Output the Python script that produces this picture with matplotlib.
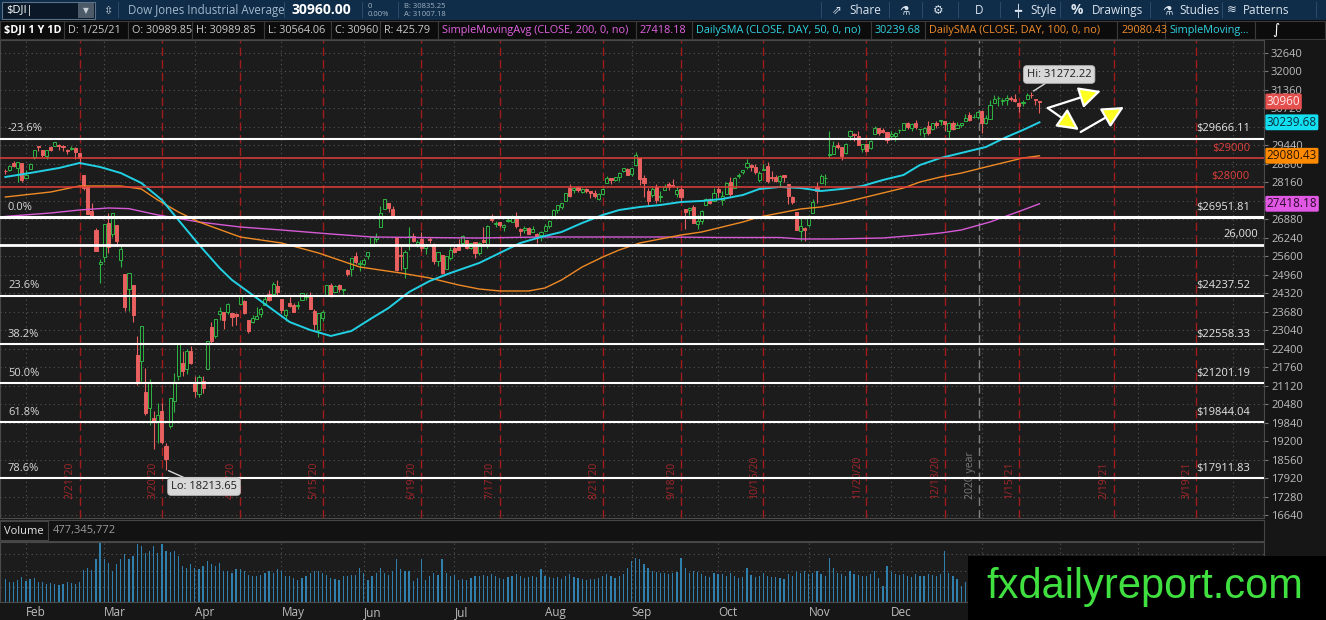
import matplotlib
matplotlib.use("Agg")
import matplotlib.pyplot as plt
import matplotlib.transforms as mtransforms
from matplotlib.patches import Rectangle
import pandas as pd

plt.rcParams['font.family'] = ['Open Sans', 'DejaVu Sans']

W, H = 1326, 620

# ---- daily candles, $DJI 1/27/20 .. 1/25/21 ----
opens = [28542, 28600, 28820, 28640, 28813, 28320, 28626, 29029, 29392, 29287,
         29060, 29373, 29405, 29442, 29417, 29280, 29305, 29344, 29165, 28402,
         28029, 27180, 26527, 25330, 25590, 26763, 26384, 26673, 25457, 24992,
         24453, 24604, 22184, 21974, 20916, 20346, 19993, 19864, 20253, 19028,
         19722, 20596, 21469, 21898, 21679, 22313, 21227, 20819, 21285, 21693,
         23165, 22840, 23613, 23660, 23681, 23652, 23609, 23962, 24034, 23395,
         23310, 23442, 23591, 23917, 24300, 24299, 24576, 24119, 23549, 23967,
         23911, 23871, 24082, 24197, 24263, 23714, 23049, 23464, 24216, 24596,
         24379, 24606, 24420, 25113, 25171, 25597, 25326, 25344, 25615, 25946,
         26182, 26617, 27232, 27447, 27251, 26282, 25660, 25192, 26267, 26314,
         26015, 26213, 25879, 26165, 26042, 25433, 25650, 25153, 25551, 25880,
         25987, 26058, 26163, 25889, 26094, 25727, 26154, 25977, 26908, 26720,
         26786, 26621, 26810, 26799, 26948, 26541, 26514, 26586, 26433, 26364,
         26354, 26476, 26633, 26913, 27200, 27297, 27514, 27958, 27883, 27988,
         27841, 27946, 27869, 27792, 27592, 27758, 28135, 28322, 28229, 28355,
         28569, 28636, 28460, 28775, 29002, 28319, 27854, 27718, 27994, 27662,
         27896, 28097, 28050, 27760, 27935, 27242, 27211, 27308, 26708, 26808,
         27374, 27580, 27514, 27942, 27537, 27762, 28165, 27950, 28379, 28525,
         28684, 28773, 28708, 28253, 28601, 28726, 28332, 28330, 28207, 28401,
         28111, 27665, 27134, 26478, 26575, 26681, 27097, 28005, 28152, 28300,
         29110, 29148, 29440, 29380, 29187, 29777, 29835, 29765, 29321, 29494,
         29360, 29832, 30044, 29965, 29892, 29774, 29756, 29956, 29988, 30224,
         30032, 30215, 29994, 29857, 30105, 30007, 30209, 30286, 30290, 29948,
         30226, 30055, 30130, 30284, 30492, 30408, 30417, 30628, 30205, 30368,
         30905, 31069, 30980, 31016, 31076, 31052, 30898, 30908, 31036, 31197,
         31056, 30990]
highs = [28632, 28770, 28890, 28880, 28814, 28590, 28840, 29291, 29408, 29287,
         29277, 29416, 29568, 29502, 29446, 29305, 29407, 29370, 29165, 28402,
         28035, 27450, 26573, 25499, 26706, 27085, 27091, 26675, 25994, 24992,
         25018, 24604, 22837, 23186, 21731, 21337, 20254, 20532, 20531, 19122,
         20705, 21563, 22596, 22327, 22379, 22480, 21449, 21477, 21447, 22680,
         23329, 23434, 23854, 23660, 23986, 23652, 23622, 24264, 24073, 23399,
         23575, 23859, 23829, 24260, 24430, 24719, 24765, 24120, 23771, 24181,
         23992, 24057, 24332, 24332, 24363, 23781, 23630, 23736, 24620, 24672,
         24589, 24643, 24477, 25172, 25548, 25758, 25469, 25543, 25749, 26270,
         26391, 27338, 27580, 27447, 27355, 26282, 26037, 25804, 26611, 26401,
         26154, 26426, 26040, 26284, 26043, 25760, 25650, 25601, 25938, 25979,
         26205, 26332, 26165, 26070, 26094, 26087, 26631, 26671, 27065, 26808,
         26804, 26704, 27000, 27020, 27140, 26569, 26636, 26608, 26648, 26407,
         26470, 26734, 26848, 27235, 27387, 27433, 27791, 28098, 27990, 28030,
         27960, 27954, 27875, 27883, 27794, 27959, 28364, 28322, 28361, 28503,
         28670, 28641, 28649, 29199, 29003, 28423, 27963, 28000, 28093, 27867,
         28110, 28155, 28288, 28022, 27991, 27250, 27301, 27366, 27013, 27205,
         27632, 27620, 27975, 28042, 27845, 28162, 28354, 28345, 28483, 28603,
         28958, 28787, 28799, 28556, 28793, 28862, 28559, 28425, 28430, 28401,
         28114, 27703, 27134, 26962, 26615, 27022, 27600, 28155, 28443, 28433,
         29934, 29594, 29558, 29391, 29516, 29964, 29876, 29948, 29502, 29497,
         29620, 30117, 30045, 30026, 29892, 29950, 29890, 30003, 30219, 30240,
         30199, 30320, 30023, 30062, 30292, 30214, 30281, 30326, 30290, 30234,
         30268, 30254, 30231, 30526, 30588, 30525, 30638, 30674, 30504, 31023,
         31194, 31141, 31091, 31168, 31155, 31224, 30955, 31022, 31239, 31272,
         31057, 30990]
lows = [28441, 28555, 28700, 28169, 28170, 28320, 28626, 28957, 29262, 29034,
        28963, 29233, 29405, 29288, 29260, 29140, 29282, 28959, 28812, 27895,
        27049, 26916, 25767, 24681, 25391, 25706, 26281, 25944, 25226, 23707,
        23690, 23328, 21155, 21285, 20117, 19771, 18917, 19138, 19094, 18214,
        19650, 20205, 21332, 21470, 21522, 21884, 20736, 20735, 20863, 21693,
        22563, 22767, 23376, 23078, 23616, 23184, 23207, 23962, 23611, 22941,
        23291, 23442, 23491, 23917, 24043, 24299, 24219, 23645, 23361, 23840,
        23664, 23786, 24082, 24091, 23762, 23053, 22790, 23371, 24216, 24205,
        24379, 24351, 24299, 24902, 24929, 25340, 25082, 25277, 25510, 25946,
        26078, 26617, 27232, 27140, 26979, 25082, 25141, 24843, 25810, 26107,
        25928, 25767, 25690, 26066, 25320, 25257, 25000, 25153, 25455, 25722,
        25824, 26058, 25869, 25844, 25539, 25648, 26076, 25887, 26800, 26631,
        26601, 26485, 26781, 26799, 26575, 26313, 26400, 26374, 26427, 26052,
        26140, 26473, 26575, 26913, 27094, 27220, 27514, 27664, 27807, 27813,
        27793, 27796, 27628, 27633, 27560, 27722, 28135, 28114, 28196, 28215,
        28530, 28415, 28372, 28710, 28074, 27665, 27388, 27669, 27453, 27482,
        27896, 27893, 27990, 27652, 27482, 26537, 27018, 26743, 26537, 26704,
        27374, 27403, 27514, 27642, 27383, 27762, 27691, 27950, 28323, 28444,
        28639, 28546, 28437, 28177, 28571, 28137, 28207, 28183, 28035, 28159,
        27414, 27418, 26520, 26143, 26144, 26598, 27097, 27438, 28152, 28054,
        28996, 29126, 29303, 28944, 29140, 29644, 29575, 29437, 29210, 29212,
        29329, 29832, 29800, 29873, 29516, 29711, 29608, 29879, 29988, 30021,
        29932, 29991, 29787, 29743, 29814, 29963, 30054, 30159, 29942, 29699,
        29980, 30042, 30092, 30284, 30289, 30373, 30342, 29882, 30194, 30368,
        30897, 30793, 30850, 30850, 30986, 30949, 30613, 30803, 31036, 31065,
        30846, 30564]
closes = [28536, 28723, 28734, 28859, 28256, 28400, 28808, 29291, 29380, 29103,
          29277, 29276, 29551, 29423, 29398, 29232, 29348, 29220, 28992, 27961,
          27081, 26958, 25767, 25409, 26703, 25917, 27091, 26121, 25865, 23851,
          25018, 23553, 21201, 23186, 20189, 21237, 19899, 20087, 19174, 18592,
          20705, 21201, 22552, 21637, 22327, 21917, 20944, 21413, 21053, 22680,
          22654, 23434, 23719, 23391, 23950, 23504, 23538, 24242, 23650, 23019,
          23476, 23515, 23775, 24134, 24102, 24634, 24346, 23724, 23750, 23883,
          23665, 23876, 24331, 24222, 23765, 23248, 23625, 23685, 24597, 24207,
          24576, 24474, 24465, 24995, 25548, 25401, 25383, 25475, 25743, 26270,
          26282, 27111, 27572, 27272, 26990, 25128, 25606, 25763, 26290, 26120,
          26080, 25871, 26025, 26156, 25446, 25746, 25016, 25596, 25813, 25735,
          25827, 26287, 25890, 26067, 25706, 26075, 26086, 26643, 26870, 26735,
          26672, 26681, 26840, 27006, 26652, 26470, 26585, 26379, 26540, 26314,
          26428, 26664, 26828, 27202, 27387, 27433, 27791, 27687, 27977, 27897,
          27931, 27845, 27778, 27693, 27740, 27930, 28308, 28248, 28332, 28492,
          28654, 28430, 28646, 29100, 28293, 28133, 27501, 27940, 27535, 27666,
          27993, 27996, 28032, 27902, 27657, 27148, 27288, 26763, 26815, 27174,
          27584, 27453, 27782, 27817, 27683, 28149, 27773, 28303, 28426, 28587,
          28838, 28680, 28514, 28494, 28606, 28195, 28309, 28211, 28364, 28336,
          27685, 27463, 26520, 26659, 26502, 26925, 27480, 27848, 28390, 28323,
          29158, 29421, 29398, 29080, 29480, 29950, 29783, 29438, 29483, 29263,
          29591, 30046, 29872, 29910, 29639, 29824, 29884, 29970, 30218, 30070,
          30174, 30069, 29999, 30046, 29862, 30200, 30155, 30303, 30179, 30216,
          30016, 30130, 30199, 30404, 30336, 30410, 30606, 30224, 30392, 30829,
          31041, 31098, 31009, 31069, 31060, 30992, 30814, 30931, 31188, 31176,
          30997, 30960]
# volume in millions
volumes = [380, 330, 340, 360, 420, 350, 380, 400, 330, 330,
           300, 320, 300, 290, 300, 330, 320, 300, 340, 540,
           560, 540, 710, 990, 712, 655, 514, 627, 712, 797,
           712, 768, 966, 938, 825, 853, 938, 825, 966, 853,
           836, 853, 768, 599, 571, 627, 571, 542, 599, 684,
           627, 599, 655, 514, 514, 486, 542, 553, 514, 458,
           429, 429, 458, 486, 514, 486, 542, 514, 429, 429,
           401, 373, 401, 429, 486, 514, 514, 486, 458, 401,
           384, 373, 429, 440, 458, 458, 571, 486,
           373, 429, 486, 571, 486, 458, 514, 712, 542, 514,
           514, 345, 401, 723, 373, 429, 486, 458, 723, 486,
           429, 458, 373, 384, 373, 401, 440, 429, 458, 440,
           460, 430, 400, 380, 420, 440, 470, 430, 400, 410, 440, 420, 554,
           440, 420, 400, 410, 380, 430, 470, 420, 400, 380, 370, 380, 390,
           400, 430, 470, 430, 400, 440, 460, 571,
           684, 740, 712, 627, 560, 520, 500, 480, 490, 470, 480, 500, 740,
           560, 490, 520, 500, 470, 430, 420, 480,
           460, 470, 440, 480, 430, 400, 410, 571, 450, 420, 440, 480, 430,
           410, 420, 400, 390, 460, 440, 500, 480, 520,
           470, 480, 520, 460, 440, 740, 560, 480, 470, 440, 520, 460, 450,
           430, 440, 470, 520, 400, 260, 599,
           500, 470, 450, 460, 430, 420, 460, 430, 440, 470, 450, 440, 470,
           853, 486, 430, 380, 260, 330,
           350, 380, 370, 520, 470, 560, 540, 480, 470, 460, 450, 470, 500,
           480, 470, 450, 430, 477]

# moving averages (trading-day index, value)
sma50_idx = [0, 6, 13, 18, 23, 28, 33, 38, 42, 47, 52, 55, 59, 65, 69, 74, 79, 84, 89, 93,
             98, 103, 108, 115, 120, 125, 130, 135, 140, 145, 149, 154, 159, 164, 169, 174,
             179, 183, 188, 193, 198, 203, 208, 213, 218, 222, 227, 232, 238, 243, 247, 251]
sma50_val = [28346, 28484, 28657, 28830, 28692, 28484, 28138, 27550, 26857, 26000,
             25194, 24779, 24363, 23740, 23324, 23047, 22840, 23013, 23463, 23809,
             24363, 24744, 25020, 25367, 25714, 26060, 26268, 26441, 26753, 27030,
             27203, 27307, 27376, 27480, 27515, 27584, 27722, 27930, 28000, 27965,
             27861, 27930, 28034, 28242, 28415, 28761, 29004, 29177, 29385, 29731,
             29973, 30240]
sma100_idx = [0, 11, 18, 28, 33, 37, 42, 47, 57, 67, 76, 86, 96, 103, 110, 115, 120, 127,
              131, 135, 140, 145, 149, 154, 159, 164, 169, 174, 179, 183, 188, 193, 198,
              203, 208, 213, 218, 222, 227, 232, 239, 247, 251]
sma100_val = [27653, 27826, 28034, 28034, 27930, 27549, 27134, 26787, 26268, 26060,
              25714, 25229, 25020, 24848, 24606, 24467, 24398, 24398, 24502, 24779,
              25229, 25575, 25818, 26060, 26199, 26337, 26441, 26614, 26787, 26960,
              27099, 27238, 27307, 27446, 27619, 27792, 27965, 28173, 28346, 28480,
              28727, 29004, 29080]
sma200_idx = [0, 11, 18, 25, 30, 37, 47, 57, 67, 79, 89, 101, 115, 130, 145, 159, 174,
              188, 193, 201, 213, 222, 227, 232, 239, 247, 251]
sma200_val = [26980, 27099, 27203, 27272, 27250, 27030, 26787, 26614, 26510, 26372,
              26268, 26250, 26233, 26268, 26268, 26268, 26250, 26250, 26199, 26199,
              26233, 26337, 26406, 26510, 26787, 27203, 27418]

fib_levels = [29666.11, 26951.81, 24237.52, 22558.33, 21201.19, 19844.04, 17911.83]
fib_pcts = ["-23.6%", "0.0%", "23.6%", "38.2%", "50.0%", "61.8%", "78.6%"]
red_levels = [29000, 28000]
round_level = 26000

exp_dates = ["2020-02-21", "2020-03-20", "2020-04-17", "2020-05-15", "2020-06-19",
             "2020-07-17", "2020-08-21", "2020-09-18", "2020-10-16", "2020-11-20",
             "2020-12-18", "2021-01-15", "2021-02-19", "2021-03-19"]
holidays = ["2020-02-17", "2020-04-10", "2020-05-25", "2020-07-03", "2020-09-07",
            "2020-11-26", "2020-12-25", "2021-01-01", "2021-01-18", "2021-02-15",
            "2021-04-02"]

n = len(closes)
assert len(opens) == n and len(highs) == n and len(lows) == n and len(volumes) == n

cal = pd.bdate_range("2020-01-27", "2021-04-30", freq="C", holidays=holidays)
month_starts = [i for i in range(1, len(cal)) if cal[i].month != cal[i - 1].month]

BG = '#1c1c1c'
fig = plt.figure(figsize=(W / 100, H / 100), dpi=100, facecolor='#161616')


def rect(x0, y0, x1, y1):
    return [x0 / W, 1 - y1 / H, (x1 - x0) / W, (y1 - y0) / H]


def box(x0, y0, x1, y1, fc, ec='none', lw=0.8):
    fig.add_artist(Rectangle((x0 / W, 1 - y1 / H), (x1 - x0) / W, (y1 - y0) / H,
                             transform=fig.transFigure, fc=fc, ec=ec, lw=lw))


def ftext(x, y, s, **kw):
    kw.setdefault('va', 'center')
    fig.text(x / W, 1 - y / H, s, **kw)


# ---- top toolbar ----
box(0, 0, W, 20, '#0f2c48')
box(2, 2, 95, 19, '#0a1828', ec='#5a738c')
box(78, 3, 94, 18, '#4d5b69')
ftext(6, 10.5, "$DJI|", color='white', fontsize=8)
ftext(86, 10.5, "▼", color='#c8d0d8', fontsize=5.5, ha='center', family=['DejaVu Sans'])
ftext(108, 10.5, "⇳", color='#c8d0d8', fontsize=8, ha='center', family=['DejaVu Sans'])
for sx in [118, 284, 362, 398, 821, 889, 922, 958, 1000, 1060, 1150, 1222, 1316]:
    box(sx, 2, sx + 1, 18, '#2b4a68')
ftext(128, 10.5, "Dow Jones Industrial Average", color='#a3b8cc', fontsize=8.3)
ftext(292, 10.5, "30960.00", color='white', fontsize=10, fontweight='bold')
ftext(368, 6, "0", color='#9fb3c6', fontsize=5.5)
ftext(368, 15, "0.00%", color='#9fb3c6', fontsize=5.5)
ftext(404, 6, "B: 30835.25", color='#9fb3c6', fontsize=5.5)
ftext(404, 15, "A: 31007.18", color='#9fb3c6', fontsize=5.5)
tb = dict(color='#dbe4ee', fontsize=8.5)
ftext(832, 10.5, "⇗", family=['DejaVu Sans'], **tb)
ftext(849, 10.5, "Share", **tb)
ftext(899, 10.5, "⚗", family=['DejaVu Sans'], **tb)
ftext(933, 10.5, "⚙", family=['DejaVu Sans'], **tb)
ftext(975, 10.5, "D", **tb)
ftext(1014, 10.5, "┿", family=['DejaVu Sans'], **tb)
ftext(1030, 10.5, "Style", **tb)
ftext(1071, 10.5, "%", fontweight='bold', color='#dbe4ee', fontsize=10)
ftext(1092, 10.5, "Drawings", **tb)
ftext(1162, 10.5, "⚗", family=['DejaVu Sans'], **tb)
ftext(1179, 10.5, "Studies", **tb)
ftext(1227, 10.5, "≋", family=['DejaVu Sans'], **tb)
ftext(1243, 10.5, "Patterns", **tb)

# ---- study header row ----
box(0, 20, W, 40, '#0c0c0c')
cells = [(0, 64, "$DJI 1 Y 1D", 'white', 'bold'),
         (64, 128, "D: 1/25/21", '#c8c8c8', 'normal'),
         (128, 192, "O: 30989.85", '#c8c8c8', 'normal'),
         (192, 264, "H: 30989.85", '#c8c8c8', 'normal'),
         (264, 331, "L: 30564.06", '#c8c8c8', 'normal'),
         (331, 380, "C: 30960", '#c8c8c8', 'normal'),
         (380, 438, "R: 425.79", '#c8c8c8', 'normal'),
         (438, 636, "SimpleMovingAvg (CLOSE, 200, 0, no)", '#e262e2', 'normal'),
         (636, 692, "27418.18", '#e262e2', 'normal'),
         (692, 871, "DailySMA (CLOSE, DAY, 50, 0, no)", '#2fd2e2', 'normal'),
         (871, 925, "30239.68", '#2fd2e2', 'normal'),
         (925, 1117, "DailySMA (CLOSE, DAY, 100, 0, no)", '#f08c2c', 'normal'),
         (1117, 1165, "29080.43", '#f08c2c', 'normal'),
         (1165, 1255, "SimpleMoving...", '#2fd2e2', 'normal')]
for x0, x1, s, c, fw in cells:
    box(x0, 21, x1, 39, '#0c0c0c', ec='#3a3a3a', lw=0.8)
    ftext(x0 + 4, 30.5, s, color=c, fontsize=7.8, fontweight=fw)
box(1255, 21, W - 1, 39, '#0c0c0c', ec='#3a3a3a', lw=0.8)
ftext(1272, 30, "∫", color='white', fontsize=10, family=['DejaVu Sans'])

# ---- price panel ----
ax = fig.add_axes(rect(0, 40, 1264, 518), facecolor=BG)
ax.set_xlim(-1.3, 305.5)
ax.set_ylim(16536, 33090)
ax.yaxis.tick_right()
yt = list(range(16640, 33000, 640))
ax.set_yticks(yt)
# labels fully hidden behind the value tags are left blank
ax.set_yticklabels(['' if t in (27520, 30080) else str(t) for t in yt])
ax.tick_params(axis='y', colors='#777777', labelcolor='#bdbdbd', labelsize=8, length=3, pad=2)
ax.set_xticks(month_starts)
ax.tick_params(axis='x', length=0, labelbottom=False)
ax.grid(True, color='#555555', linestyle=(0, (1, 3)), linewidth=0.8)
for sp in ax.spines.values():
    sp.set_color('#4a4a4a')

up_c, dn_c = '#2fb444', '#e8605f'
for i in range(n):
    o, h, l, c = opens[i], highs[i], lows[i], closes[i]
    col = up_c if c >= o else dn_c
    ax.vlines(i, l, h, color=col, lw=0.8, zorder=3)
    body = max(abs(c - o), 25)
    ax.add_patch(Rectangle((i - 0.38, min(o, c)), 0.76, body, fc=BG if c >= o else dn_c,
                           ec=col, lw=0.7, zorder=3.5))

ax.plot(sma200_idx, sma200_val, color='#d65ad6', lw=1.0, zorder=4)
ax.plot(sma100_idx, sma100_val, color='#f08a24', lw=1.0, zorder=4)
ax.plot(sma50_idx, sma50_val, color='#22d0e4', lw=1.4, zorder=4)

bl = mtransforms.blended_transform_factory(ax.transAxes, ax.transData)
for lev, pct in zip(fib_levels, fib_pcts):
    ax.axhline(lev, color='white', lw=2.2 if lev == fib_levels[1] else 1.5, zorder=5)
    ax.annotate(pct, xy=(8 / 1264, lev), xycoords=bl, xytext=(0, 10), textcoords='offset pixels',
                ha='left', va='center', color='#d8d8d8', fontsize=8, zorder=6)
    ax.annotate(f"${lev:.2f}", xy=(1250 / 1264, lev), xycoords=bl, xytext=(0, 10),
                textcoords='offset pixels', ha='right', va='center', color='#e6e6e6',
                fontsize=8, zorder=6)
for lev in red_levels:
    ax.axhline(lev, color='#e0403c', lw=1.1, zorder=5)
    ax.annotate(f"${lev}", xy=(1250 / 1264, lev), xycoords=bl, xytext=(0, 10),
                textcoords='offset pixels', ha='right', va='center', color='#e0403c',
                fontsize=8, zorder=6)
ax.axhline(round_level, color='white', lw=2.0, zorder=5)
ax.annotate(f"{round_level:,}", xy=(1258 / 1264, round_level), xycoords=bl, xytext=(0, 10),
            textcoords='offset pixels', ha='right', va='center', color='#e6e6e6',
            fontsize=8, zorder=6)

# option-expiration and year separators
vt = mtransforms.blended_transform_factory(ax.transData, ax.transAxes)
for d in exp_dates:
    ts = pd.Timestamp(d)
    xi = cal.get_loc(ts)
    ax.axvline(xi, color='#a01c1c', lw=1.0, linestyle=(0, (6, 3)), zorder=2)
    ax.text(xi - 0.9, 0.04, f"{ts.month}/{ts.day}/{ts.strftime('%y')}", transform=vt,
            rotation=90, ha='right', va='bottom', color='#a4262a', fontsize=7.5, zorder=2)
yx = cal.get_loc(pd.Timestamp("2021-01-04")) - 0.6
ax.axvline(yx, color='#808080', lw=1.0, linestyle=(0, (6, 3)), zorder=2)
ax.text(yx - 0.9, 0.04, "2020 year", transform=vt, rotation=90, ha='right', va='bottom',
        color='#7a7a7a', fontsize=7.5, zorder=2)

# hi / lo callouts
hi_i = highs.index(max(highs))
lo_i = lows.index(min(lows))
call = dict(textcoords='offset pixels', ha='center', va='center', fontsize=8, color='#1e1e1e',
            bbox=dict(boxstyle='round,pad=0.3', fc='#d8d8d8', ec='#b8b8b8', lw=0.6),
            arrowprops=dict(arrowstyle='-', color='#d8d8d8', lw=1.0, shrinkA=0, shrinkB=2),
            zorder=8)
ax.annotate(f"Hi: {max(highs) + 0.22:.2f}", xy=(hi_i, max(highs)), xytext=(28, 18), **call)
ax.annotate(f"Lo: {min(lows) - 0.35:.2f}", xy=(lo_i, min(lows)), xytext=(38, -17), **call)

# drawn arrows
arr = dict(arrowstyle='-|>,head_length=1.1,head_width=0.55', fc='#ffff22', ec='white',
           lw=1.6, shrinkA=0, shrinkB=0, mutation_scale=12)
ax.annotate('', xy=(265.9, 31324), xytext=(253.0, 30735), arrowprops=arr, zorder=7)
ax.annotate('', xy=(260.6, 29973), xytext=(253.0, 30735), arrowprops=arr, zorder=7)
ax.annotate('', xy=(271.5, 30770), xytext=(261.0, 29904), arrowprops=arr, zorder=7)

# price axis value boxes
tags = [(closes[-1], f"{closes[-1]}", '#e4504e', '#ffe8e8'),
        (sma50_val[-1] - 0.32, "30239.68", '#12e0f0', '#0a2a3c'),
        (sma100_val[-1] + 0.43, "29080.43", '#ff8a00', '#2a1600'),
        (sma200_val[-1] + 0.18, "27418.18", '#e158e4', '#2a0a2a')]
for val, s, bg, tc in tags:
    ax.text(1.0022, val, s, transform=bl, ha='left', va='center', fontsize=8.5, color=tc,
            bbox=dict(boxstyle='round,pad=0.12', fc=bg, ec='none'), zorder=10, clip_on=False)

# ---- volume panel ----
box(0, 520, 1264, 541, '#121212', ec='#454545')
box(0, 521, 48, 540, '#121212', ec='#454545')
ftext(4, 531, "Volume", color='#e6e6e6', fontsize=8)
ftext(53, 531, "477,345,772", color='#9a9a9a', fontsize=8)

axv = fig.add_axes(rect(0, 542, 1264, 602), facecolor=BG)
axv.set_xlim(-1.3, 305.5)
axv.set_ylim(0, 1000)
axv.bar(range(n), volumes, width=0.3, color='#2f80ad', zorder=2)
axv.set_yticks([250, 525, 800])
axv.tick_params(axis='y', length=0, labelright=False, labelleft=False)
axv.grid(True, color='#555555', linestyle=(0, (1, 3)), linewidth=0.8)
axv.set_xticks(month_starts)
axv.set_xticklabels([cal[i].strftime('%b') for i in month_starts])
axv.tick_params(axis='x', length=0, labelcolor='#bdbdbd', labelsize=8.5, pad=3)
for lbl in axv.get_xticklabels():
    lbl.set_horizontalalignment('left')
for sp in axv.spines.values():
    sp.set_color('#4a4a4a')

# watermark
box(968, 556, W, H, 'black')
ftext(1145, 587, "fxdailyreport.com", color='#3fe03f', fontsize=30, ha='center',
      family=['Liberation Sans', 'DejaVu Sans'])

fig.savefig("out.png", dpi=100, facecolor=fig.get_facecolor())
